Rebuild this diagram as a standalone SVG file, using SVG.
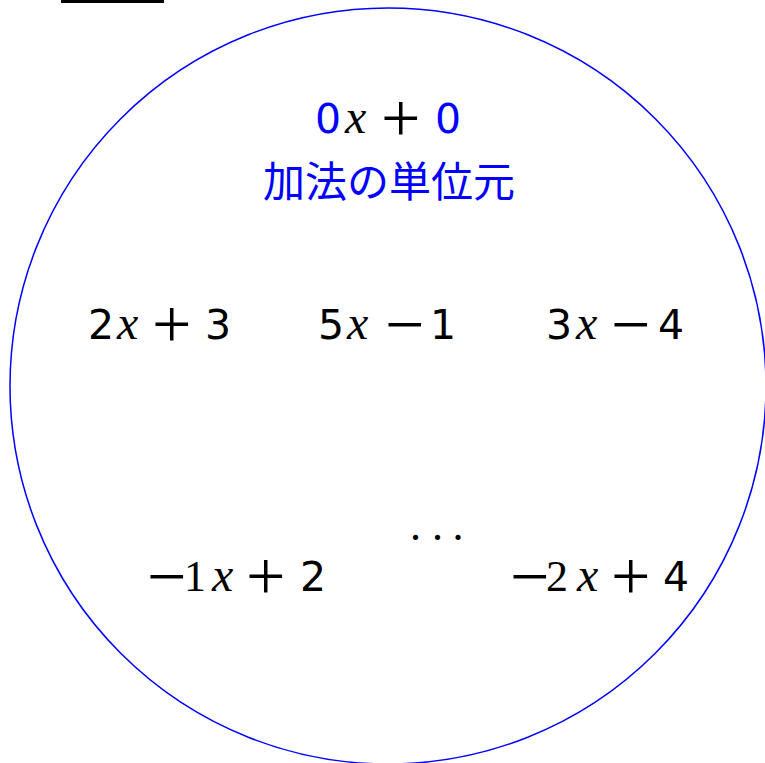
<svg xmlns="http://www.w3.org/2000/svg" width="765" height="763" viewBox="0 0 765 763">
<style>
.d{font-family:"DejaVu Sans",Verdana,sans-serif;font-size:41px}
.r{font-family:"Liberation Serif","Times New Roman",serif;font-size:44px}
.v{font-family:"Liberation Serif","Times New Roman",serif;font-style:italic;font-size:48px}
.o{font-family:"Liberation Serif","Times New Roman",serif;font-size:70px}
text{fill:#000}
.b{fill:#0000ff}
.j{font-family:"Noto Sans CJK JP","Noto Sans CJK SC",sans-serif;font-size:42px;fill:#0000ff}
</style>
<rect width="765" height="763" fill="#fff"/>
<line x1="61" y1="1.5" x2="164" y2="1.5" stroke="#000" stroke-width="3"/>
<g id="set">
<circle cx="388" cy="386" r="378" fill="none" stroke="#0000ff" stroke-width="1.5"/>
</g>
<g id="identity">
<text y="133"><tspan class="d b" x="315">0</tspan><tspan class="v" x="345">x</tspan><tspan class="o" x="381" y="142">+</tspan><tspan class="d b" x="435" y="133">0</tspan></text>
<text class="j" x="389" y="197" text-anchor="middle">加法の単位元</text>
</g>
<g id="e1">
<text y="339"><tspan class="d" x="88">2</tspan><tspan class="v" x="117">x</tspan><tspan class="o" x="152" y="348">+</tspan><tspan class="d" x="205" y="339">3</tspan></text>
</g>
<g id="e2">
<text y="339"><tspan class="d" x="318">5</tspan><tspan class="v" x="347">x</tspan><tspan class="o" x="385" y="348">−</tspan><tspan class="d" x="430" y="339">1</tspan></text>
</g>
<g id="e3">
<text y="339"><tspan class="d" x="546">3</tspan><tspan class="v" x="576">x</tspan><tspan class="o" x="611" y="348">−</tspan><tspan class="d" x="658" y="339">4</tspan></text>
</g>
<g id="e4">
<text y="600"><tspan class="o" x="147">−</tspan><tspan class="r" x="184" y="591">1</tspan><tspan class="v" x="212">x</tspan><tspan class="o" x="246" y="600">+</tspan><tspan class="d" x="300" y="591">2</tspan></text>
</g>
<g id="e5">
<text y="600"><tspan class="o" x="510">−</tspan><tspan class="r" x="546" y="591">2</tspan><tspan class="v" x="577">x</tspan><tspan class="o" x="611" y="600">+</tspan><tspan class="d" x="663" y="591">4</tspan></text>
</g>
<g id="dots">
<text class="r" x="410 432 452.5" y="540">...</text>
</g>
</svg>
